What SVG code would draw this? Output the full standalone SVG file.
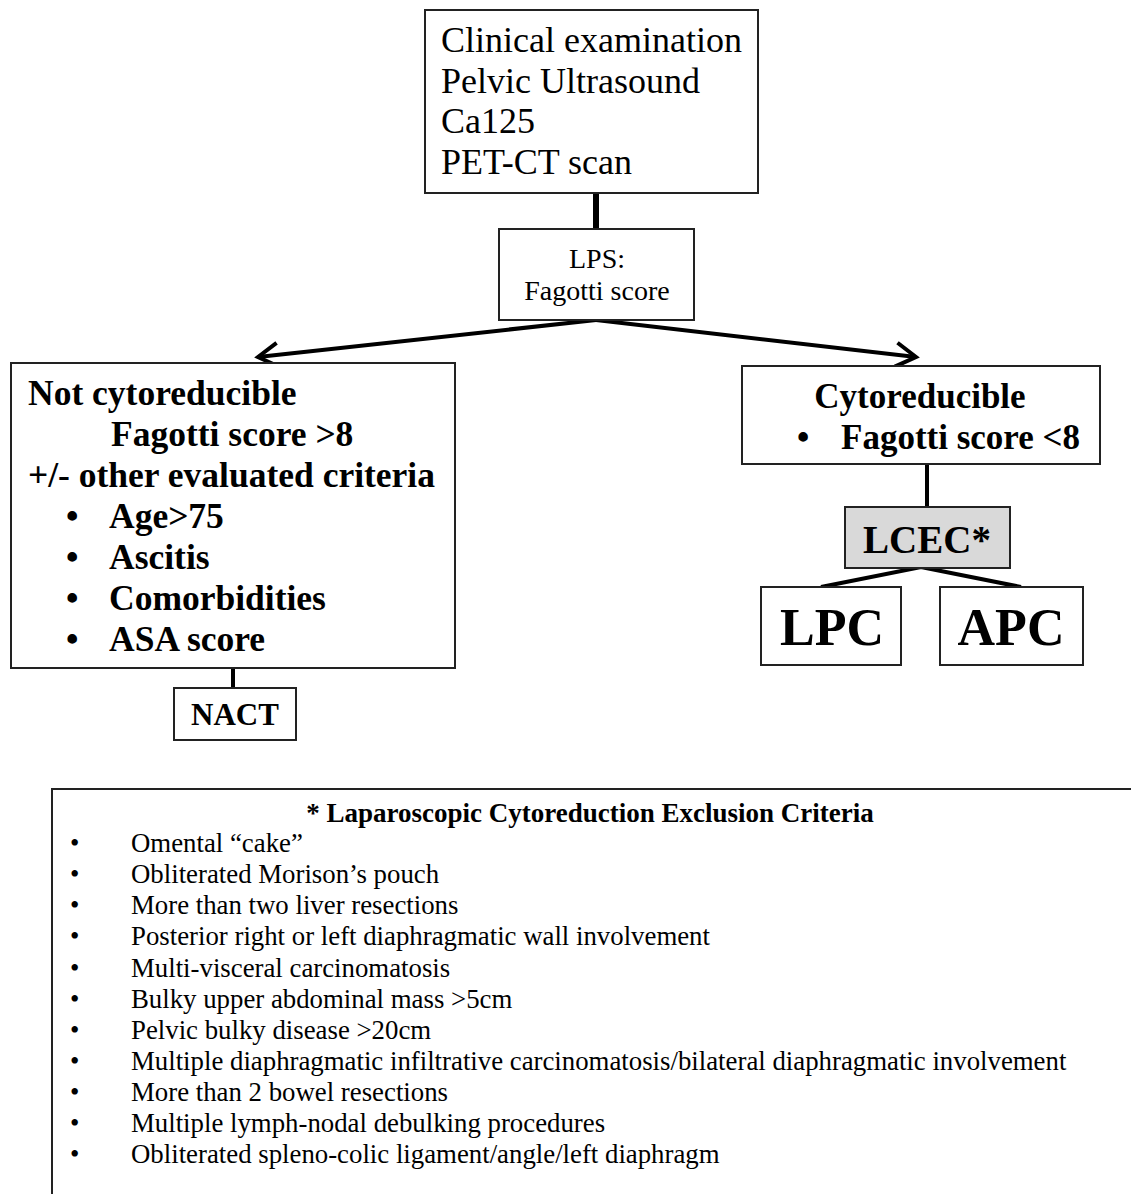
<svg xmlns="http://www.w3.org/2000/svg" width="1131" height="1194" viewBox="0 0 1131 1194">
<style>
.box{fill:#fff;stroke:#222;stroke-width:2}
.gray{fill:#d9d9d9;stroke:#222;stroke-width:2}
.reg{font-family:"Liberation Serif","Times New Roman",serif;fill:#000}
.bold{font-family:"Liberation Serif","Times New Roman",serif;font-weight:bold;fill:#000}
.con{stroke:#000;fill:none}
</style>
<defs>
<marker id="arr" markerWidth="8" markerHeight="8" refX="6" refY="4" orient="auto" markerUnits="strokeWidth">
<path d="M1,1 L6,4 L1,7" fill="none" stroke="#000" stroke-width="1" stroke-linejoin="miter"/>
</marker>
</defs>
<rect width="1131" height="1194" fill="#fff"/>
<g id="connectors">
<line class="con" x1="596" y1="193" x2="596" y2="230" stroke-width="6"/>
<line class="con" x1="596" y1="320" x2="258" y2="357" stroke-width="4" marker-end="url(#arr)"/>
<line class="con" x1="596" y1="320" x2="916" y2="357" stroke-width="4" marker-end="url(#arr)"/>
<line class="con" x1="233" y1="668" x2="233" y2="688" stroke-width="4"/>
<line class="con" x1="927" y1="464" x2="927" y2="507" stroke-width="4"/>
<polyline class="con" points="821,587 921,567 1021,587" stroke-width="4"/>
</g>
<g id="exam">
<rect class="box" x="425" y="10" width="333" height="183"/>
<text class="reg" font-size="36" x="441" y="52">Clinical examination</text>
<text class="reg" font-size="36" x="441" y="93">Pelvic Ultrasound</text>
<text class="reg" font-size="36" x="441" y="133">Ca125</text>
<text class="reg" font-size="36" x="441" y="174">PET-CT scan</text>
</g>
<g id="lps">
<rect class="box" x="499" y="229" width="195" height="91"/>
<text class="reg" font-size="28" x="597" y="268" text-anchor="middle">LPS:</text>
<text class="reg" font-size="28" x="597" y="300" text-anchor="middle">Fagotti score</text>
</g>
<g id="notcyto">
<rect class="box" x="11" y="363" width="444" height="305"/>
<text class="bold" font-size="35.5" x="28" y="405">Not cytoreducible</text>
<text class="bold" font-size="35.5" x="111" y="446">Fagotti score &gt;8</text>
<text class="bold" font-size="35.5" x="28" y="487">+/- other evaluated criteria</text>
<text class="bold" font-size="35.5" x="66" y="528">•</text>
<text class="bold" font-size="35.5" x="109" y="528">Age&gt;75</text>
<text class="bold" font-size="35.5" x="66" y="569">•</text>
<text class="bold" font-size="35.5" x="109" y="569">Ascitis</text>
<text class="bold" font-size="35.5" x="66" y="610">•</text>
<text class="bold" font-size="35.5" x="109" y="610">Comorbidities</text>
<text class="bold" font-size="35.5" x="66" y="651">•</text>
<text class="bold" font-size="35.5" x="109" y="651">ASA score</text>
</g>
<g id="nact">
<rect class="box" x="174" y="688" width="122" height="52"/>
<text class="bold" font-size="31" x="235" y="725" text-anchor="middle">NACT</text>
</g>
<g id="cyto">
<rect class="box" x="742" y="366" width="358" height="98"/>
<text class="bold" font-size="35" x="920" y="408" text-anchor="middle">Cytoreducible</text>
<text class="bold" font-size="35" x="797" y="449">•</text>
<text class="bold" font-size="35" x="841" y="449">Fagotti score &lt;8</text>
</g>
<g id="lcec">
<rect class="gray" x="845" y="507" width="165" height="61"/>
<text class="bold" font-size="39" x="927" y="553" text-anchor="middle" fill="#111">LCEC*</text>
</g>
<g id="lpc">
<rect class="box" x="761" y="587" width="140" height="78"/>
<text class="bold" font-size="52" x="832" y="645" text-anchor="middle">LPC</text>
</g>
<g id="apc">
<rect class="box" x="940" y="587" width="143" height="78"/>
<text class="bold" font-size="52" x="1011" y="645" text-anchor="middle">APC</text>
</g>
<g id="criteria">
<rect class="box" x="52" y="789" width="1100" height="420"/>
<text class="bold" font-size="27" x="590" y="822" text-anchor="middle">* Laparoscopic Cytoreduction Exclusion Criteria</text>
<g class="reg" font-size="26.8">
<text x="70" y="852">•</text><text x="131" y="852">Omental “cake”</text>
<text x="70" y="883">•</text><text x="131" y="883">Obliterated Morison’s pouch</text>
<text x="70" y="914">•</text><text x="131" y="914">More than two liver resections</text>
<text x="70" y="945">•</text><text x="131" y="945">Posterior right or left diaphragmatic wall involvement</text>
<text x="70" y="977">•</text><text x="131" y="977">Multi-visceral carcinomatosis</text>
<text x="70" y="1008">•</text><text x="131" y="1008">Bulky upper abdominal mass &gt;5cm</text>
<text x="70" y="1039">•</text><text x="131" y="1039">Pelvic bulky disease &gt;20cm</text>
<text x="70" y="1070">•</text><text x="131" y="1070">Multiple diaphragmatic infiltrative carcinomatosis/bilateral diaphragmatic involvement</text>
<text x="70" y="1101">•</text><text x="131" y="1101">More than 2 bowel resections</text>
<text x="70" y="1132">•</text><text x="131" y="1132">Multiple lymph-nodal debulking procedures</text>
<text x="70" y="1163">•</text><text x="131" y="1163">Obliterated spleno-colic ligament/angle/left diaphragm</text>
</g>
</g>
</svg>
